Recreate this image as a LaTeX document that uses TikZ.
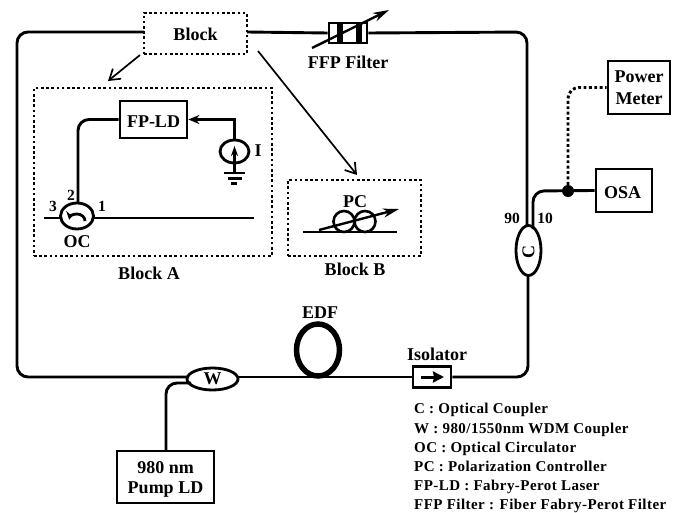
\documentclass[tikz,border=0pt]{standalone}
\usepackage{fontspec}
\setmainfont{Liberation Serif}
\usepackage{tikz}
\usetikzlibrary{arrows.meta,positioning,shapes.geometric}
\newfontfamily\notefont[LetterSpace=3]{Liberation Serif}
\tikzstyle{lbl}=[inner sep=0pt,font=\fontsize{18}{20}\selectfont\bfseries]
\tikzstyle{small}=[inner sep=0pt,font=\fontsize{15.5}{17}\selectfont\bfseries]
\tikzstyle{note}=[inner sep=0pt,anchor=base west,font=\notefont\fontsize{15}{17}\selectfont\bfseries]
\tikzstyle{devbox}=[rectangle,draw,line width=2.8pt,inner sep=0pt]
\tikzstyle{dotbox}=[rectangle,draw,line width=2.6pt,dash pattern=on 2.6pt off 2.6pt,inner sep=0pt]
\tikzstyle{coupler}=[ellipse,draw,line width=2.8pt,inner sep=0pt,fill=white]
\tikzstyle{fiber}=[line width=2.9pt,rounded corners=11pt]
\tikzstyle{pointer}=[-{Straight Barb[length=10pt,width=13pt]},line width=1.7pt]
\tikzstyle{tune}=[-{Stealth[length=16pt,width=9pt]},line width=2.4pt]
\begin{document}
\begin{tikzpicture}[x=1pt,y=-1pt]
      \useasboundingbox (0,0) rectangle (674,513);
      % boxes
      \node[dotbox,minimum width=103pt,minimum height=41pt] (block) at (195.5,33.5) {};
      \node[lbl] (blocktxt) at (195.5,34) {Block};
      \node[dotbox,minimum width=238pt,minimum height=168pt] (blocka) at (153,172) {};
      \node[lbl] (blockatxt) at (149,273) {Block A};
      \node[dotbox,minimum width=133pt,minimum height=76pt] (blockb) at (354.5,218) {};
      \node[lbl] (blockbtxt) at (355,269) {Block B};
      \node[devbox,minimum width=67pt,minimum height=37pt] (fpld) at (153.5,119.5) {};
      \node[lbl] (fpldtxt) at (153.5,122) {FP-LD};
      \node[devbox,minimum width=97pt,minimum height=52pt] (pump) at (165.5,477) {};
      \node[lbl] (pumptxta) at (165.5,468) {980 nm};
      \node[lbl] (pumptxtb) at (165.5,490) {Pump LD};
      \node[devbox,minimum width=56pt,minimum height=43pt] (osa) at (624,190.5) {};
      \node[lbl] (osatxt) at (622.5,192.5) {OSA};
      \node[devbox,minimum width=62pt,minimum height=53pt] (meter) at (639,87.5) {};
      \node[lbl] (metertxta) at (639,77) {Power};
      \node[lbl] (metertxtb) at (639,99) {Meter};
      \node[devbox,minimum width=38pt,minimum height=21pt] (iso) at (432,377) {};
      \node[devbox,minimum width=38pt,minimum height=20pt] (ffp) at (348,33) {};
      \node[lbl] (isotxt) at (437,354) {Isolator};
      \node[lbl] (ffptxt) at (348,62) {FFP Filter};
      % couplers
      \node[coupler,minimum width=51pt,minimum height=22pt,font=\fontsize{18}{20}\selectfont\bfseries] (wdm) at (212.5,379) {W};
      \node[coupler,minimum width=25pt,minimum height=50pt] (coup) at (528.5,250.5) {};
      \node[lbl,rotate=90] (couptxt) at (528.5,252) {C};
      \node[coupler,minimum width=33pt,minimum height=26pt] (oc) at (77,216) {};
      \node[ellipse,draw,line width=5.5pt,inner sep=0pt,minimum width=43pt,minimum height=52pt] (edf) at (318,350) {};
      \node[lbl] (edftxt) at (320,313) {EDF};
      \node[coupler,minimum width=29pt,minimum height=23pt] (src) at (234.5,151.5) {};
      \node[lbl] (srctxt) at (258,151) {I};
      % ports and corners
      \coordinate (wa) at (189,377);
      \coordinate (wb) at (191,383);
      \coordinate (we) at (237,377);
      \coordinate (tl) at (17,32);
      \coordinate (bl) at (17,377);
      \coordinate (tr) at (527,32);
      \coordinate (br) at (528,377);
      \coordinate (ca) at (527,226);
      \coordinate (cb) at (533,229);
      \coordinate (cc) at (528,275);
      \coordinate (arm) at (533,191);
      \coordinate (ocup) at (78,203);
      \coordinate (ocl) at (44,218);
      \coordinate (ocm) at (61,218);
      \coordinate (ocn) at (93,218);
      \coordinate (ocr) at (254,218);
      \coordinate (gnd) at (234.5,173);
      \coordinate (srctip) at (234.5,146);
      \coordinate (blke) at (247,32);
      \coordinate (blkw) at (144,32);
      \coordinate (pumpt) at (166,451);
      \node[circle,fill,inner sep=0pt,minimum size=12pt] (tap) at (568,191) {};
      % fiber loop
      \draw[fiber] (blkw) -- (tl) -- (bl) -- (wa);
      \draw[fiber] (blke) -- (ffp.west);
      \draw[fiber] (ffp.east) -- (tr) -- (ca);
      \draw[fiber] (we) -- (iso.west);
      \draw[fiber] (iso.east) -- (br) -- (cc);
      \draw[fiber] (wb) -| (pumpt);
      \draw[fiber] (cb) -- (arm) -- (osa.west);
      \draw[fiber,dash pattern=on 2.9pt off 2.5pt] (tap) |- (meter.west);
      % block A
      \draw[fiber] (fpld.west) -| (ocup);
      \draw[fiber] (ocl) -- (ocm);
      \draw[fiber] (ocn) -- (ocr);
      \draw[-{Stealth[length=11pt,width=9pt]},line width=2.4pt] (src.north) |- (fpld.east);
      \draw[-{Stealth[length=10pt,width=7pt]},line width=2.4pt] (gnd) -- (srctip);
      \draw[line width=2.6pt] (224,173) -- (245,173) (228,178.5) -- (242,178.5);
      \draw[line width=3pt] (231,184) -- (237,184);
      \draw[-{Stealth[length=8pt,width=9pt]},line width=2.8pt] (85,221) arc (0:-170:8 and 7);
      \node[small] (pthree) at (53,206) {3};
      \node[small] (ptwo) at (71,195) {2};
      \node[small] (pone) at (102,206) {1};
      \node[lbl] (octxt) at (77,242) {OC};
      % block B
      \coordinate (pcl) at (303,232);
      \coordinate (pcr) at (397,232);
      \draw[line width=2.8pt] (pcl) -- (pcr);
      \node[circle,draw,line width=2.6pt,inner sep=0pt,minimum size=21pt] (pca) at (344,221.5) {};
      \node[circle,draw,line width=2.6pt,inner sep=0pt,minimum size=21pt] (pcb) at (365,221.5) {};
      \coordinate (pcs) at (319,230);
      \coordinate (pce) at (399,209);
      \draw[tune] (pcs) -- (pce);
      \node[lbl] (pctxt) at (355,202) {PC};
      % filter and isolator
      \draw[line width=6pt] (339.5,23) -- (339.5,43) (359,23) -- (359,43);
      \coordinate (ffps) at (312,48);
      \coordinate (ffpe) at (389,10);
      \draw[tune] (ffps) -- (ffpe);
      \coordinate (isos) at (421,377);
      \coordinate (isoe) at (444,377);
      \draw[-{Stealth[length=11pt,width=11pt,inset=1pt]},line width=3pt] (isos) -- (isoe);
      % pointers
      \coordinate (ptra) at (108,81);
      \coordinate (ptrb) at (357,175);
      \draw[pointer] (140,55) -- (ptra);
      \draw[pointer] (258,51) -- (ptrb);
      % port labels
      \node[small] (nine) at (512,218) {90};
      \node[small] (ten) at (545,218) {10};
      % legend
      \node[note] (n1) at (414,413) {C : Optical Coupler};
      \node[note] (n2) at (414,433) {W : 980/1550nm WDM Coupler};
      \node[note] (n3) at (414,452) {OC : Optical Circulator};
      \node[note] (n4) at (414,471) {PC : Polarization Controller};
      \node[note] (n5) at (414,490) {FP-LD : Fabry-Perot Laser};
      \node[note] (n6) at (414,509) {FFP Filter : Fiber Fabry-Perot Filter};
    \end{tikzpicture}
\end{document}
